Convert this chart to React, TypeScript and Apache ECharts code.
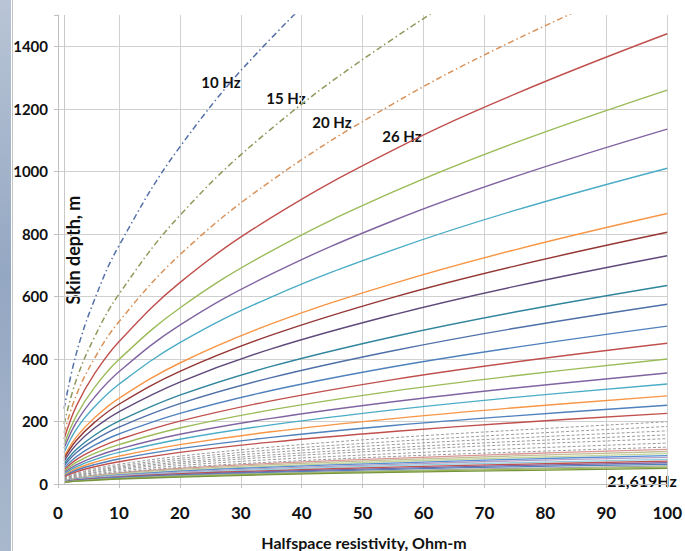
import React, { useEffect, useRef } from 'react';
import * as echarts from 'echarts';

// Halfspace resistivity (Ohm-m) sample points
const resistivity = [1, 3, 6, 10, 20, 35, 55, 75, 100];

// Skin depth (m), one row per frequency curve
// dash-dot curves: 10 Hz, 15 Hz, 20 Hz
const dashDotCurves = [
  [241, 417, 590, 762, 1078, 1426, 1787, 2087, 2410],
  [192, 333, 470, 607, 859, 1136, 1424, 1663, 1920],
  [164, 284, 402, 519, 733, 970, 1216, 1420, 1640],
];
// solid curves from 26 Hz upwards
const solidCurves = [
  [144, 249, 353, 455, 644, 852, 1068, 1247, 1440],
  [126, 218, 309, 398, 563, 745, 934, 1091, 1260],
  [114, 197, 278, 359, 508, 671, 842, 983, 1135],
  [101, 175, 247, 319, 452, 598, 749, 875, 1010],
  [87, 150, 212, 274, 387, 512, 641, 749, 865],
  [81, 139, 197, 255, 360, 476, 597, 697, 805],
  [73, 126, 179, 231, 326, 432, 541, 632, 730],
  [64, 110, 156, 201, 284, 376, 471, 550, 635],
  [58, 100, 141, 182, 257, 340, 426, 498, 575],
  [51, 87, 124, 160, 226, 299, 375, 437, 505],
  [45, 78, 110, 142, 201, 266, 334, 390, 450],
  [40, 69, 98, 126, 179, 237, 297, 346, 400],
  [36, 61, 87, 112, 159, 210, 263, 307, 355],
  [32, 55, 78, 101, 143, 189, 237, 277, 320],
  [28, 49, 69, 89, 126, 167, 209, 244, 282],
  [25, 44, 62, 80, 113, 149, 187, 218, 252],
  [23, 39, 55, 71, 101, 134, 168, 196, 226],
];
// grey dashed curves
const dashedCurves = [
  [20, 34, 49, 63, 89, 118, 148, 172, 199],
  [18, 32, 45, 58, 82, 109, 136, 159, 184],
  [17, 29, 42, 54, 76, 101, 126, 147, 170],
  [16, 27, 38, 50, 70, 93, 116, 136, 157],
  [15, 25, 36, 46, 65, 86, 108, 126, 145],
  [13, 23, 32, 41, 59, 78, 97, 113, 131],
  [12, 20, 29, 37, 53, 70, 88, 102, 118],
];
// highest frequencies, down to 21,619 Hz
const lowCurves = [
  [11, 19, 27, 35, 50, 66, 82, 96, 111],
  [10, 18, 25, 33, 47, 62, 77, 90, 104],
  [10, 17, 24, 31, 43, 57, 72, 84, 97],
  [9, 16, 22, 29, 41, 54, 67, 79, 91],
  [9, 15, 21, 27, 38, 50, 63, 74, 85],
  [8, 14, 19, 25, 35, 47, 59, 68, 79],
  [7, 13, 18, 23, 33, 43, 54, 63, 73],
  [7, 12, 17, 22, 30, 40, 50, 59, 68],
  [6, 11, 15, 20, 28, 37, 47, 55, 63],
  [6, 10, 14, 18, 26, 34, 43, 50, 58],
  [5, 9, 13, 17, 24, 32, 40, 47, 54],
  [5, 9, 12, 16, 22, 30, 37, 43, 50],
];

const freqLabels = ['10 Hz', '15 Hz', '20 Hz', '26 Hz'];
const highFreqLabel = '21,619Hz';
const xTitle = 'Halfspace resistivity, Ohm-m';
const yTitle = 'Skin depth, m';

const dashDotColors = ['#5470A8', '#8E9A5B', '#D9925A'];
const solidColors = [
  '#C0504D', '#9BBB59', '#8064A2', '#4BACC6', '#F79646', '#953735',
  '#5F497A', '#31859C', '#4F6FA8', '#4F81BD', '#C0504D', '#9BBB59',
  '#8064A2', '#4BACC6', '#F79646', '#4F81BD', '#C0504D',
];
const lowColors = [
  '#D99694', '#C4BD97', '#C3D69B', '#558ED5', '#B3A2C7', '#93CDDD',
  '#C0504D', '#8064A2', '#4F81BD', '#A6A6A6', '#9BBB59', '#77933C',
];

const FONT = 'Lato, "Open Sans", sans-serif';

export default function App() {
  const ref = useRef<HTMLDivElement>(null);

  useEffect(() => {
    if (!ref.current) return;
    const chart = echarts.init(ref.current, undefined, { renderer: 'svg' });
    const toData = (ys: number[]) => resistivity.map((x, i) => [x, ys[i]]);
    const series: any[] = [];
    const SMOOTH = 0.4;

    lowCurves.forEach((c, i) =>
      series.push({
        type: 'line', data: toData(c), smooth: SMOOTH,
        showSymbol: false, silent: true,
        lineStyle: { color: lowColors[i % lowColors.length], width: 1.3 },
      })
    );
    dashedCurves.forEach((c) =>
      series.push({
        type: 'line', data: toData(c), smooth: SMOOTH,
        showSymbol: false, silent: true,
        lineStyle: { color: '#9A9A9A', width: 1, type: [3, 2] },
      })
    );
    solidCurves.forEach((c, i) =>
      series.push({
        type: 'line', data: toData(c), smooth: SMOOTH,
        showSymbol: false, silent: true,
        lineStyle: { color: solidColors[i % solidColors.length], width: 1.4 },
      })
    );
    dashDotCurves.forEach((c, i) =>
      series.push({
        type: 'line', data: toData(c), smooth: SMOOTH,
        showSymbol: false, silent: true,
        lineStyle: { color: dashDotColors[i], width: 1.5, type: [6, 3, 1.5, 3] },
      })
    );
    // thin vertical reference at resistivity = 1
    series.push({
      type: 'line', data: [], silent: true,
      markLine: {
        silent: true, symbol: 'none', label: { show: false },
        lineStyle: { color: '#C8C8C8', width: 1, type: 'solid' },
        data: [{ xAxis: 1 }],
      },
    });

    const gridColors = ['#D0D0D0', '#D0D0D0', '#D0D0D0', '#D0D0D0', '#D0D0D0', '#D0D0D0', '#D0D0D0', '#D0D0D0', 'rgba(0,0,0,0)'];

    chart.setOption({
      animation: false,
      backgroundColor: '#FFFFFF',
      grid: { left: 58, right: 15, top: 15, bottom: 67, containLabel: false },
      xAxis: {
        type: 'value', min: 0, max: 100, interval: 10,
        axisLine: { show: true, lineStyle: { color: '#BFBFBF' } },
        axisTick: { show: true, length: 4, lineStyle: { color: '#BFBFBF' } },
        splitLine: { show: true, lineStyle: { color: '#D0D0D0', width: 1 } },
        axisLabel: { color: '#111', fontFamily: FONT, fontWeight: 'bold', fontSize: 17, margin: 20 },
      },
      yAxis: {
        type: 'value', min: 0, max: 1500, interval: 200,
        axisLine: { show: true, lineStyle: { color: '#BFBFBF' } },
        axisTick: { show: true, length: 4, lineStyle: { color: '#BFBFBF' } },
        splitLine: { show: true, lineStyle: { color: gridColors, width: 1 } },
        axisLabel: {
          color: '#111', fontFamily: FONT, fontWeight: 'bold', fontSize: 15, margin: 10,
          formatter: (v: number) => (v > 1400 ? '' : String(v)),
        },
      },
      series,
      graphic: [
        {
          type: 'rect', left: 0, top: 0, z: -10,
          shape: { width: 11, height: 551 },
          style: {
            fill: new echarts.graphic.LinearGradient(0, 0, 0, 1, [
              { offset: 0, color: '#B9C5D6' },
              { offset: 0.5, color: '#94A7C2' },
              { offset: 1, color: '#A9B8CC' },
            ]),
          },
        },
        { type: 'line', shape: { x1: 12.5, y1: 0, x2: 12.5, y2: 551 }, style: { stroke: '#C4C4C4', lineWidth: 1 } },
        {
          type: 'text', x: 73, y: 250, rotation: Math.PI / 2,
          style: { text: yTitle, fill: '#111', font: `bold 18px ${FONT}`, align: 'center', verticalAlign: 'middle' },
        },
        {
          type: 'text', x: 364, y: 542,
          style: { text: xTitle, fill: '#111', font: `bold 16px ${FONT}`, align: 'center', verticalAlign: 'middle' },
        },
        { type: 'text', x: 221, y: 82, style: { text: freqLabels[0], fill: '#111', font: `bold 15px ${FONT}`, align: 'center', verticalAlign: 'middle' } },
        { type: 'text', x: 286, y: 98, style: { text: freqLabels[1], fill: '#111', font: `bold 15px ${FONT}`, align: 'center', verticalAlign: 'middle' } },
        { type: 'text', x: 332, y: 122, style: { text: freqLabels[2], fill: '#111', font: `bold 15px ${FONT}`, align: 'center', verticalAlign: 'middle' } },
        { type: 'text', x: 402, y: 136, style: { text: freqLabels[3], fill: '#111', font: `bold 15px ${FONT}`, align: 'center', verticalAlign: 'middle' } },
        { type: 'text', x: 642, y: 480, style: { text: highFreqLabel, fill: '#111', font: `bold 16px ${FONT}`, align: 'center', verticalAlign: 'middle' } },
      ],
    });
    return () => chart.dispose();
  }, []);

  return <div ref={ref} style={{ position: 'fixed', left: 0, top: 0, width: 685, height: 551 }} />;
}
